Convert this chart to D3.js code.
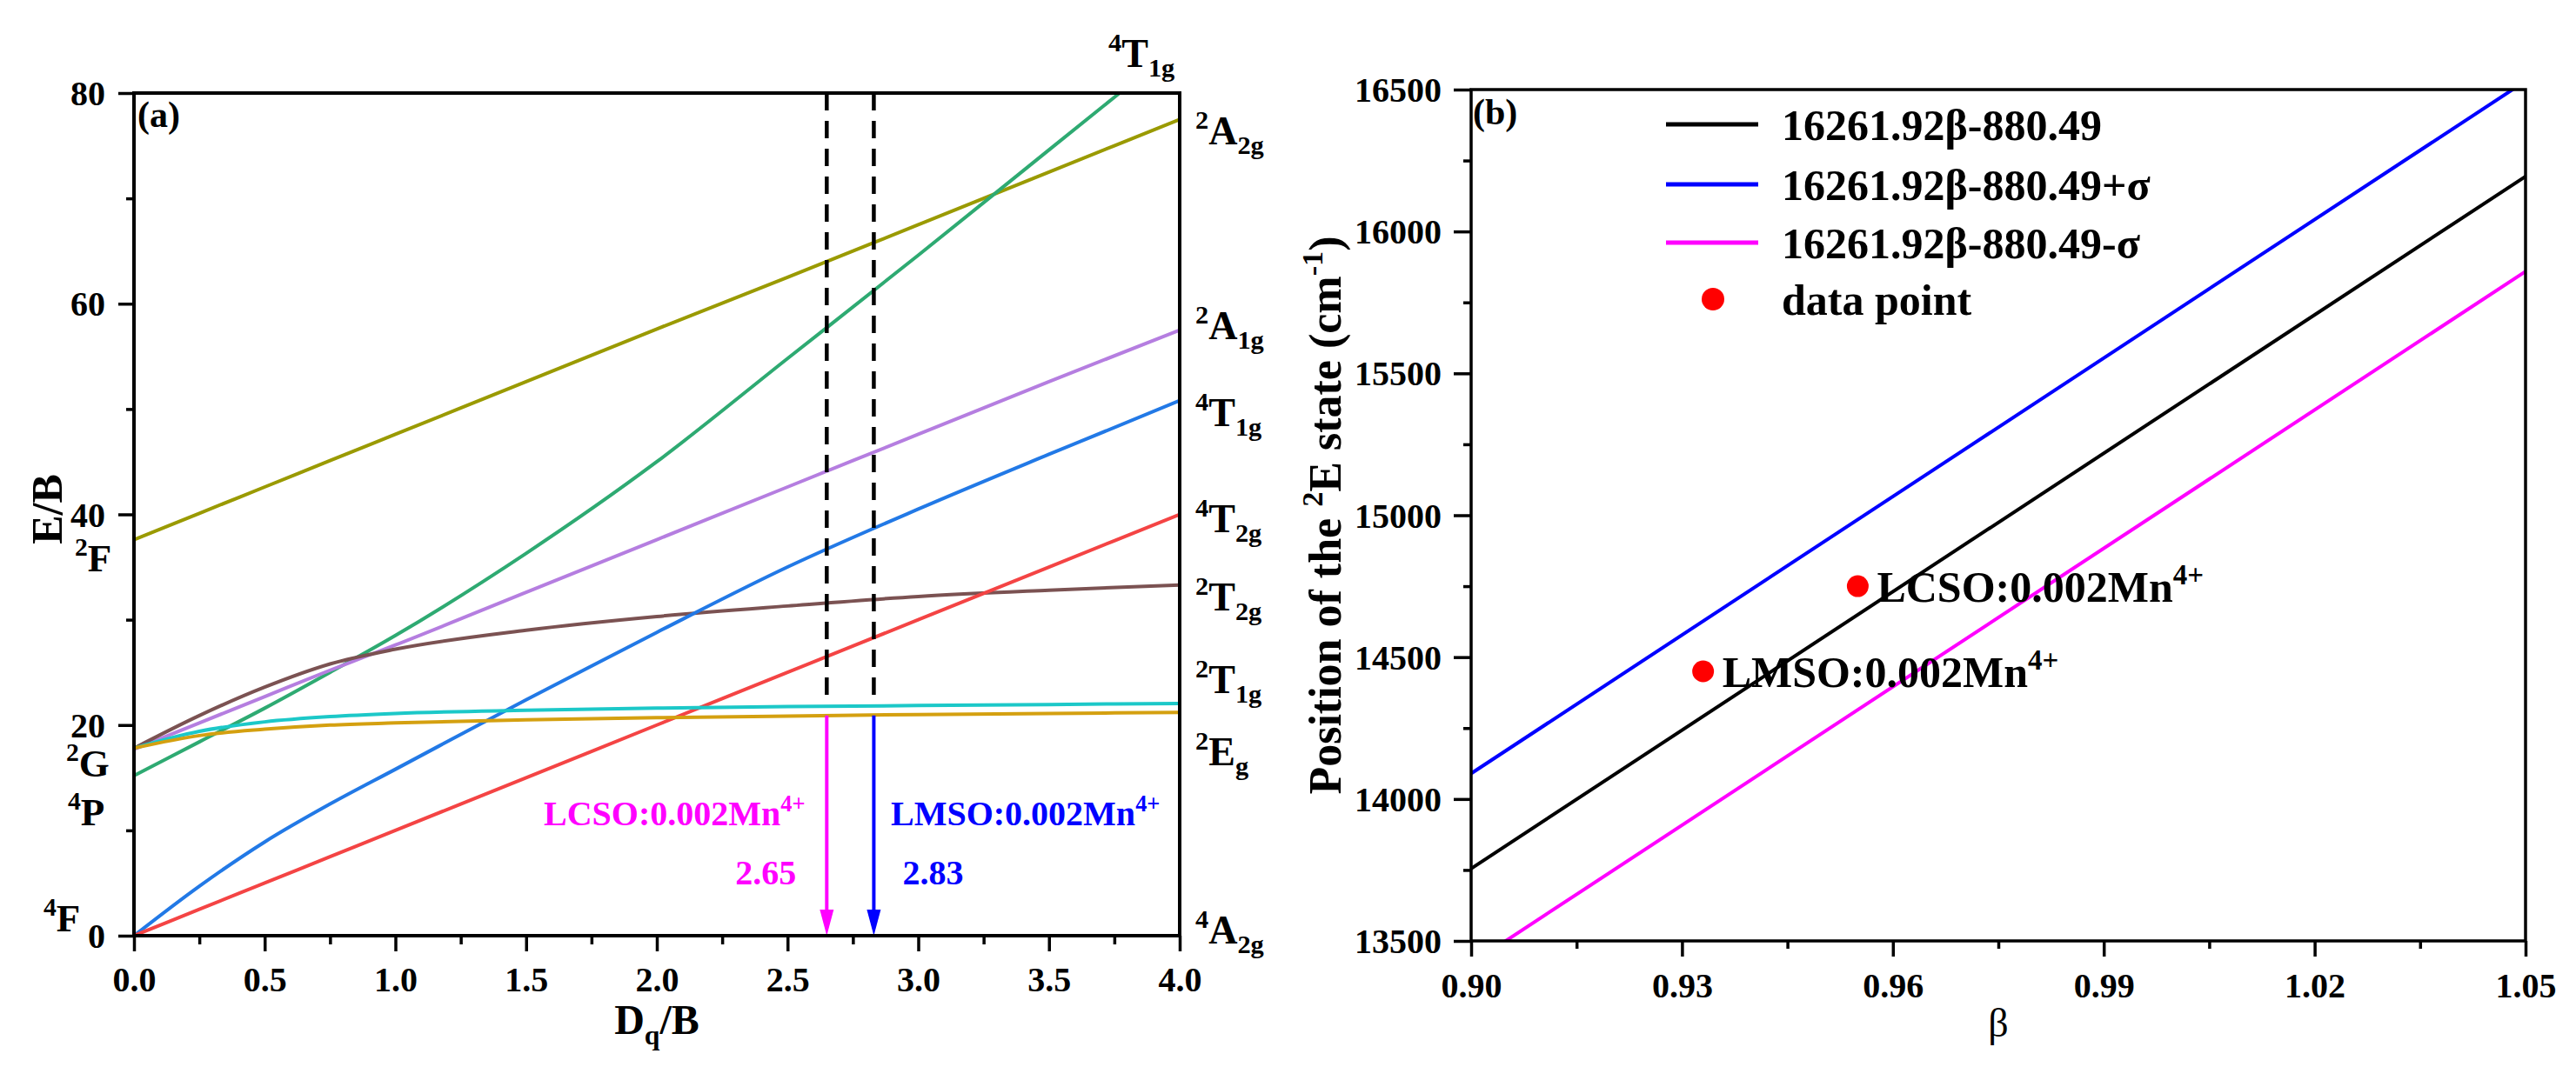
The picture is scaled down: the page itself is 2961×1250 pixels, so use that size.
<!DOCTYPE html>
<html><head><meta charset="utf-8">
<script src="https://cdn.jsdelivr.net/npm/d3@7"></script>
<style>
body{margin:0;background:#fff}
svg{display:block}
text{font-family:"Liberation Serif","Times New Roman",serif;font-weight:bold;fill:#000}
</style>
</head><body>
<svg id="c" width="2961" height="1250"></svg>
<script>
// ---------------- DATA ----------------
// Panel (a): Tanabe-Sugano diagram, x = Dq/B
const dqB      = [0, 0.25, 0.5, 0.75, 1, 1.5, 2, 2.5, 3, 3.5, 4];
const e2A2g    = [37.6, 40.1, 42.6, 45.1, 47.6, 52.6, 57.6, 62.5, 67.5, 72.5, 77.5];
const e4T1gP   = [15.2, 18.4, 21.6, 25.0, 28.5, 36.3, 45.0, 54.8, 64.6, 74.6, 84.6];
const e2A1g    = [17.7, 20.2, 22.7, 25.2, 27.6, 32.6, 37.6, 42.6, 47.6, 52.6, 57.5];
const e2T2g    = [17.8, 20.9, 23.6, 25.8, 27.2, 29.0, 30.3, 31.3, 32.2, 32.8, 33.3];
const e4T1g    = [0, 4.7, 8.9, 12.5, 15.8, 22.4, 28.8, 35.0, 40.5, 45.7, 50.8];
const e4T2g    = [0, 2.5, 5, 7.5, 10, 15, 20, 25, 30, 35, 40];
const e2T1g    = [17.8, 19.4, 20.3, 20.8, 21.1, 21.4, 21.6, 21.75, 21.85, 21.95, 22.05];
const e2Eg     = [17.8, 19.0, 19.6, 20.0, 20.2, 20.5, 20.7, 20.85, 21.0, 21.1, 21.2];
const curveColors = ["#9a9a00", "#2eaa72", "#b57ee0", "#7b5252", "#2279e6", "#f44444", "#1cc8c8", "#d4a010"];

const markerDq     = [2.65, 2.83];
const dashTopE     = [80, 80];
const dashBottomE  = [22.1, 22.2];
const arrowStartE  = [20.9, 20.9];
const markerColors = ["#ff00ff", "#0000ff"];
const markerNames  = ["LCSO:0.002Mn", "LMSO:0.002Mn"];
const markerValues = ["2.65", "2.83"];

const aXTicks = [0, 0.5, 1, 1.5, 2, 2.5, 3, 3.5, 4];
const aXMinor = [0.25, 0.75, 1.25, 1.75, 2.25, 2.75, 3.25, 3.75];
const aYTicks = [0, 20, 40, 60, 80];
const aYMinor = [10, 30, 50, 70];

// Panel (b): position of 2E state vs beta
const betaEnds   = [0.90, 1.05];
const fitCentral = [13755, 16194];
const fitUpper   = [14090, 16530];
const fitLower   = [13420, 15859];
const fitColors  = ["#000000", "#0000ff", "#ff00ff"];
const legendLabels = ["16261.92β-880.49", "16261.92β-880.49+σ", "16261.92β-880.49-σ", "data point"];
const pointBeta  = [0.933, 0.955];
const pointE     = [14450, 14750];
const pointNames = ["LMSO:0.002Mn", "LCSO:0.002Mn"];

const bXTicks = [0.90, 0.93, 0.96, 0.99, 1.02, 1.05];
const bXMinor = [0.915, 0.945, 0.975, 1.005, 1.035];
const bYTicks = [13500, 14000, 14500, 15000, 15500, 16000, 16500];
const bYMinor = [13750, 14250, 14750, 15250, 15750, 16250];

// ---------------- DRAWING ----------------
const svg = d3.select("#c");

// rich text helper: parts = [[text, 'n'|'sup'|'sub'], ...]
function rich(parent, x, y, parts, size, opts = {}) {
  const t = parent.append("text").attr("x", x).attr("y", y)
    .attr("font-size", size)
    .attr("text-anchor", opts.anchor || "start");
  if (opts.fill) t.style("fill", opts.fill);
  if (opts.transform) t.attr("transform", opts.transform);
  if (opts.weight) t.style("font-weight", opts.weight);
  let cur = 0;
  parts.forEach(([s, k]) => {
    const target = k === "sup" ? -0.40 * size : k === "sub" ? 0.24 * size : 0;
    const fs = k === "n" ? size : size * 0.66;
    t.append("tspan").attr("dy", target - cur).attr("font-size", fs).text(s);
    cur = target;
  });
  return t;
}

function styleAxis(g, fs) {
  g.select(".domain").remove();
  g.selectAll("line").attr("stroke", "#000").attr("stroke-width", 3.5);
  g.attr("font-family", null);
  g.selectAll("text").attr("font-size", fs).style("fill", "#000")
    .style("font-family", '"Liberation Serif", "Times New Roman", serif').style("font-weight", "bold");
}

// ===== Panel (a) =====
const xa = d3.scaleLinear().domain([0, 4]).range([154, 1356]);
const ya = d3.scaleLinear().domain([0, 80]).range([1076, 107]);

svg.append("defs").append("clipPath").attr("id", "clipA")
  .append("rect").attr("x", xa(0)).attr("y", ya(80)).attr("width", xa(4) - xa(0)).attr("height", ya(0) - ya(80));

const curves = [e2A2g, e4T1gP, e2A1g, e2T2g, e4T1g, e4T2g, e2T1g, e2Eg];
const lineA = d3.line().x((d, i) => xa(dqB[i])).y(d => ya(d)).curve(d3.curveMonotoneX);
const gA = svg.append("g").attr("clip-path", "url(#clipA)");
curves.forEach((c, i) => {
  gA.append("path").datum(c).attr("d", lineA).attr("fill", "none")
    .attr("stroke", curveColors[i]).attr("stroke-width", 4);
});

// dashed verticals and arrows
markerDq.forEach((dq, i) => {
  svg.append("line").attr("x1", xa(dq)).attr("x2", xa(dq))
    .attr("y1", ya(dashTopE[i])).attr("y2", ya(dashBottomE[i]))
    .attr("stroke", "#000").attr("stroke-width", 4.5).attr("stroke-dasharray", "20,12");
  const tip = ya(0), headH = 30, headW = 8;
  svg.append("line").attr("x1", xa(dq)).attr("x2", xa(dq))
    .attr("y1", ya(arrowStartE[i])).attr("y2", tip - headH + 2)
    .attr("stroke", markerColors[i]).attr("stroke-width", 4);
  svg.append("polygon")
    .attr("points", `${xa(dq)},${tip} ${xa(dq) - headW},${tip - headH} ${xa(dq) + headW},${tip - headH}`)
    .attr("fill", markerColors[i]);
});
rich(svg, 625, 949, [[markerNames[0], "n"], ["4+", "sup"]], 40, { fill: markerColors[0] });
rich(svg, 1024, 949, [[markerNames[1], "n"], ["4+", "sup"]], 40, { fill: markerColors[1] });
svg.append("text").attr("x", xa(markerDq[0]) - 35).attr("y", 1017).attr("text-anchor", "end")
  .attr("font-size", 40).style("fill", markerColors[0]).text(markerValues[0]);
svg.append("text").attr("x", xa(markerDq[1]) + 33).attr("y", 1017)
  .attr("font-size", 40).style("fill", markerColors[1]).text(markerValues[1]);

// frame
svg.append("rect").attr("x", xa(0)).attr("y", ya(80)).attr("width", xa(4) - xa(0)).attr("height", ya(0) - ya(80))
  .attr("fill", "none").attr("stroke", "#000").attr("stroke-width", 4);

// axes a
let g;
g = svg.append("g").attr("transform", `translate(0,${ya(0)})`)
  .call(d3.axisBottom(xa).tickValues(aXMinor).tickSize(10).tickFormat(""));
styleAxis(g, 40);
g = svg.append("g").attr("transform", `translate(0,${ya(0)})`)
  .call(d3.axisBottom(xa).tickValues(aXTicks).tickSize(18).tickFormat(d3.format(".1f")));
styleAxis(g, 40);
g.selectAll("text").attr("y", 64).attr("dy", 0);
g = svg.append("g").attr("transform", `translate(${xa(0)},0)`)
  .call(d3.axisLeft(ya).tickValues(aYMinor).tickSize(9).tickFormat(""));
styleAxis(g, 40);
g = svg.append("g").attr("transform", `translate(${xa(0)},0)`)
  .call(d3.axisLeft(ya).tickValues(aYTicks).tickSize(18).tickFormat(d3.format("d")));
styleAxis(g, 40);
g.selectAll("text").attr("x", -33).attr("dy", "0.34em");

// axis titles a
svg.append("text").attr("transform", `translate(71,${(ya(0) + ya(80)) / 2 - 6}) rotate(-90)`)
  .attr("text-anchor", "middle").attr("font-size", 50).text("E/B");
rich(svg, (xa(0) + xa(4)) / 2, 1189, [["D", "n"], ["q", "sub"], ["/B", "n"]], 48, { anchor: "middle" });

// panel label
svg.append("text").attr("x", 158).attr("y", 146).attr("font-size", 42).text("(a)");

// right-side term labels
const rightLabels = [
  [["2", "sup"], ["A", "n"], ["2g", "sub"], 166],
  [["2", "sup"], ["A", "n"], ["1g", "sub"], 390],
  [["4", "sup"], ["T", "n"], ["1g", "sub"], 490],
  [["4", "sup"], ["T", "n"], ["2g", "sub"], 612],
  [["2", "sup"], ["T", "n"], ["2g", "sub"], 702],
  [["2", "sup"], ["T", "n"], ["1g", "sub"], 797],
  [["2", "sup"], ["E", "n"], ["g", "sub"], 880],
  [["4", "sup"], ["A", "n"], ["2g", "sub"], 1085]
];
rightLabels.forEach(r => rich(svg, 1374, r[3], r.slice(0, 3), 46));
rich(svg, 1274, 77, [["4", "sup"], ["T", "n"], ["1g", "sub"]], 46);

// left-side free-ion labels
rich(svg, 86, 657, [["2", "sup"], ["F", "n"]], 45);
rich(svg, 76, 893, [["2", "sup"], ["G", "n"]], 45);
rich(svg, 78, 949, [["4", "sup"], ["P", "n"]], 45);
rich(svg, 50, 1071, [["4", "sup"], ["F", "n"]], 45);

// ===== Panel (b) =====
const xb = d3.scaleLinear().domain([0.90, 1.05]).range([1691, 2903]);
const yb = d3.scaleLinear().domain([13500, 16500]).range([1082, 103]);

svg.select("defs").append("clipPath").attr("id", "clipB")
  .append("rect").attr("x", xb(0.90)).attr("y", yb(16500)).attr("width", xb(1.05) - xb(0.90)).attr("height", yb(13500) - yb(16500));

const lineB = d3.line().x((d, i) => xb(betaEnds[i])).y(d => yb(d));
const gB = svg.append("g").attr("clip-path", "url(#clipB)");
[fitCentral, fitUpper, fitLower].forEach((s, i) => {
  gB.append("path").datum(s).attr("d", lineB).attr("fill", "none")
    .attr("stroke", fitColors[i]).attr("stroke-width", 4);
});
pointBeta.forEach((b, i) => {
  svg.append("circle").attr("cx", xb(b)).attr("cy", yb(pointE[i])).attr("r", 12.5).attr("fill", "#ff0000");
  rich(svg, xb(b) + 22, yb(pointE[i]) + 18, [[pointNames[i], "n"], ["4+", "sup"]], 50);
});

// legend
const legY = [143, 212, 279, 344];
[0, 1, 2].forEach(i => {
  svg.append("line").attr("x1", 1915).attr("x2", 2021).attr("y1", legY[i]).attr("y2", legY[i])
    .attr("stroke", fitColors[i]).attr("stroke-width", 5);
});
svg.append("circle").attr("cx", 1969).attr("cy", legY[3]).attr("r", 13).attr("fill", "#ff0000");
legendLabels.forEach((l, i) => {
  svg.append("text").attr("x", 2048).attr("y", legY[i] + 18).attr("font-size", 50).text(l);
});

// frame b
svg.append("rect").attr("x", xb(0.90)).attr("y", yb(16500)).attr("width", xb(1.05) - xb(0.90)).attr("height", yb(13500) - yb(16500))
  .attr("fill", "none").attr("stroke", "#000").attr("stroke-width", 3.5);

// axes b
g = svg.append("g").attr("transform", `translate(0,${yb(13500)})`)
  .call(d3.axisBottom(xb).tickValues(bXMinor).tickSize(9).tickFormat(""));
styleAxis(g, 40);
g = svg.append("g").attr("transform", `translate(0,${yb(13500)})`)
  .call(d3.axisBottom(xb).tickValues(bXTicks).tickSize(18).tickFormat(d3.format(".2f")));
styleAxis(g, 40);
g.selectAll("text").attr("y", 65).attr("dy", 0);
g = svg.append("g").attr("transform", `translate(${xb(0.90)},0)`)
  .call(d3.axisLeft(yb).tickValues(bYMinor).tickSize(9).tickFormat(""));
styleAxis(g, 40);
g = svg.append("g").attr("transform", `translate(${xb(0.90)},0)`)
  .call(d3.axisLeft(yb).tickValues(bYTicks).tickSize(20).tickFormat(d3.format("d")));
styleAxis(g, 40);
g.selectAll("text").attr("x", -34).attr("dy", "0.34em");

// axis titles b
svg.append("text").attr("x", (xb(0.90) + xb(1.05)) / 2).attr("y", 1192).attr("text-anchor", "middle")
  .attr("font-size", 46).style("font-weight", "normal").text("β");
rich(svg, 0, 0, [["Position of the ", "n"], ["2", "sup"], ["E state (cm", "n"], ["-1", "sup"], [")", "n"]], 52,
  { anchor: "middle", transform: `translate(1541,${(yb(13500) + yb(16500)) / 2}) rotate(-90)` });

svg.append("text").attr("x", 1693).attr("y", 143).attr("font-size", 42).text("(b)");
</script>
</body></html>
